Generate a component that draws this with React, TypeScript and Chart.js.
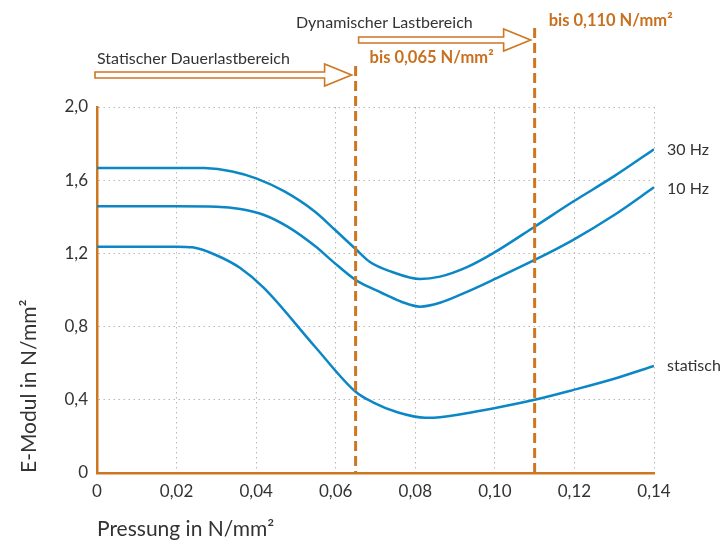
import { useEffect, useRef } from "react";
import Chart from "chart.js/auto";

// ---- data ----
const xTickValues = [0, 0.02, 0.04, 0.06, 0.08, 0.1, 0.12, 0.14];
const xTickLabels = ["0", "0,02", "0,04", "0,06", "0,08", "0,10", "0,12", "0,14"];
const yTickValues = [0, 0.4, 0.8, 1.2, 1.6, 2.0];
const yTickLabels = ["0", "0,4", "0,8", "1,2", "1,6", "2,0"];

const seriesNames = ["30 Hz", "10 Hz", "statisch"];

const pressure30 = [0, 0.01, 0.02, 0.027, 0.034, 0.04, 0.047, 0.0548, 0.06, 0.065, 0.0686, 0.074, 0.0812, 0.0862, 0.093, 0.0995, 0.11, 0.1196, 0.13, 0.14];
const modulus30 = [1.667, 1.667, 1.667, 1.666, 1.648, 1.61, 1.54, 1.428, 1.325, 1.224, 1.153, 1.1, 1.06, 1.073, 1.125, 1.2, 1.346, 1.482, 1.622, 1.769];

const pressure10 = [0, 0.01, 0.02, 0.03, 0.036, 0.042, 0.048, 0.0548, 0.0593, 0.065, 0.069, 0.0725, 0.0765, 0.0812, 0.0862, 0.093, 0.0995, 0.11, 0.1196, 0.13, 0.14];
const modulus10 = [1.457, 1.457, 1.457, 1.455, 1.443, 1.41, 1.345, 1.24, 1.155, 1.055, 1.01, 0.975, 0.936, 0.909, 0.93, 0.99, 1.055, 1.164, 1.273, 1.41, 1.561];

const pressureStat = [0, 0.01, 0.02, 0.024, 0.03, 0.036, 0.042, 0.0548, 0.065, 0.0695, 0.0755, 0.0825, 0.0862, 0.0995, 0.11, 0.1196, 0.13, 0.14];
const modulusStat = [1.237, 1.237, 1.237, 1.233, 1.19, 1.12, 1.01, 0.69, 0.444, 0.385, 0.332, 0.302, 0.305, 0.353, 0.4, 0.453, 0.515, 0.585];

const limitValues = [0.065, 0.11];
const limitLabels = ["bis 0,065 N/mm²", "bis 0,110 N/mm²"];
const rangeLabels = ["Statischer Dauerlastbereich", "Dynamischer Lastbereich"];

const xTitle = "Pressung in N/mm²";
const yTitle = "E-Modul in N/mm²";

// ---- styles ----
const BLUE = "#0b87c6";
const ORANGE = "#cf7621";
const ORANGE_TEXT = "#c8701e";
const TEXT = "#333333";
const GRID = "#b8b8b8";
const FONT = "Lato, 'Open Sans', sans-serif";

function toPoints(xs: number[], ys: number[]) {
  return xs.map((x, i) => ({ x, y: ys[i] }));
}

function drawArrow(ctx: CanvasRenderingContext2D, x0: number, x1: number, yc: number, sh: number, hh: number, hl: number) {
  ctx.beginPath();
  ctx.moveTo(x0, yc - sh);
  ctx.lineTo(x1 - hl, yc - sh);
  ctx.lineTo(x1 - hl, yc - hh);
  ctx.lineTo(x1, yc);
  ctx.lineTo(x1 - hl, yc + hh);
  ctx.lineTo(x1 - hl, yc + sh);
  ctx.lineTo(x0, yc + sh);
  ctx.closePath();
  ctx.fillStyle = "#ffffff";
  ctx.fill();
  ctx.stroke();
}

const annotationPlugin = {
  id: "annotations",
  afterDatasetsDraw(chart: any) {
    const { ctx, chartArea, scales } = chart;
    const x = scales.x;
    const y = scales.y;
    const lineTops = [66, 28];
    const p0 = x.getPixelForValue(limitValues[0]);
    const p1 = x.getPixelForValue(limitValues[1]);
    ctx.save();
    // dashed limit lines
    [p0, p1].forEach((px, i) => {
      ctx.beginPath();
      ctx.setLineDash([10, 5]);
      ctx.lineWidth = 3;
      ctx.strokeStyle = ORANGE;
      ctx.moveTo(px, lineTops[i]);
      ctx.lineTo(px, chartArea.bottom);
      ctx.stroke();
    });
    ctx.setLineDash([]);
    // arrows
    ctx.lineWidth = 1.6;
    ctx.strokeStyle = ORANGE;
    ctx.lineJoin = "miter";
    drawArrow(ctx, 95, p0 - 4, 75, 3, 11, 27);
    drawArrow(ctx, p0 + 3, p1 - 4, 40, 3, 11, 27);
    // range labels
    ctx.fillStyle = TEXT;
    ctx.font = `16px ${FONT}`;
    ctx.textAlign = "left";
    ctx.textBaseline = "alphabetic";
    ctx.fillText(rangeLabels[0], 97, 64);
    ctx.fillText(rangeLabels[1], 296, 28);
    // limit labels
    ctx.fillStyle = ORANGE_TEXT;
    ctx.font = `bold 16.5px ${FONT}`;
    ctx.textBaseline = "middle";
    ctx.fillText(limitLabels[0], p0 + 14, 58);
    ctx.fillText(limitLabels[1], p1 + 14, 21);
    // series end labels
    ctx.fillStyle = TEXT;
    ctx.font = `16px ${FONT}`;
    const ends = [modulus30, modulus10, modulusStat];
    const offs = [1, 2, 0];
    ends.forEach((arr, i) => {
      const py = y.getPixelForValue(arr[arr.length - 1]);
      ctx.fillText(seriesNames[i], chartArea.right + 13, py + offs[i]);
    });
    ctx.restore();
  },
};

export default function App() {
  const ref = useRef<HTMLCanvasElement | null>(null);
  useEffect(() => {
    if (!ref.current) return;
    const mk = (xs: number[], ys: number[], label: string) => ({
      label,
      data: toPoints(xs, ys),
      borderColor: BLUE,
      backgroundColor: BLUE,
      borderWidth: 2.5,
      pointRadius: 0,
      fill: false,
      cubicInterpolationMode: "monotone" as const,
    });
    const chart = new Chart(ref.current, {
      type: "line",
      data: {
        datasets: [
          mk(pressure30, modulus30, seriesNames[0]),
          mk(pressure10, modulus10, seriesNames[1]),
          mk(pressureStat, modulusStat, seriesNames[2]),
        ],
      },
      options: {
        responsive: false,
        animation: false,
        layout: { padding: { top: 107, right: 68, left: 0, bottom: 0 } },
        plugins: { legend: { display: false }, tooltip: { enabled: false } },
        scales: {
          x: {
            type: "linear",
            min: 0,
            max: 0.14,
            afterBuildTicks: (s: any) => {
              s.ticks = xTickValues.map((v) => ({ value: v }));
            },
            afterFit: (s: any) => {
              s.height = 72;
            },
            ticks: {
              callback: (_v: any, i: number) => xTickLabels[i],
              color: TEXT,
              font: { family: FONT, size: 17 },
              padding: 8,
              maxRotation: 0,
              autoSkip: false,
            },
            grid: { color: GRID, lineWidth: 1, drawTicks: false },
            border: { display: true, color: ORANGE, width: 2.5, dash: [1.5, 3.5] },
            title: {
              display: true,
              text: xTitle,
              align: "start",
              color: TEXT,
              font: { family: FONT, size: 21 },
              padding: { top: 0, bottom: 3 },
            },
          },
          y: {
            type: "linear",
            min: 0,
            max: 2,
            afterBuildTicks: (s: any) => {
              s.ticks = yTickValues.map((v) => ({ value: v }));
            },
            afterFit: (s: any) => {
              s.width = 97;
            },
            ticks: {
              callback: (_v: any, i: number) => yTickLabels[i],
              color: TEXT,
              font: { family: FONT, size: 17 },
              padding: 9,
              autoSkip: false,
            },
            grid: { color: GRID, lineWidth: 1, drawTicks: false },
            border: { display: true, color: ORANGE, width: 2.5, dash: [1.5, 3.5] },
            title: {
              display: true,
              text: yTitle,
              align: "start",
              color: TEXT,
              font: { family: FONT, size: 21 },
              padding: { top: 17, bottom: 0 },
            },
          },
        },
      },
      plugins: [annotationPlugin],
    });
    return () => chart.destroy();
  }, []);
  return (
    <div style={{ position: "absolute", left: 0, top: 0, width: 722, height: 545, background: "#fff" }}>
      <canvas ref={ref} width={722} height={545} style={{ display: "block" }} />
    </div>
  );
}
